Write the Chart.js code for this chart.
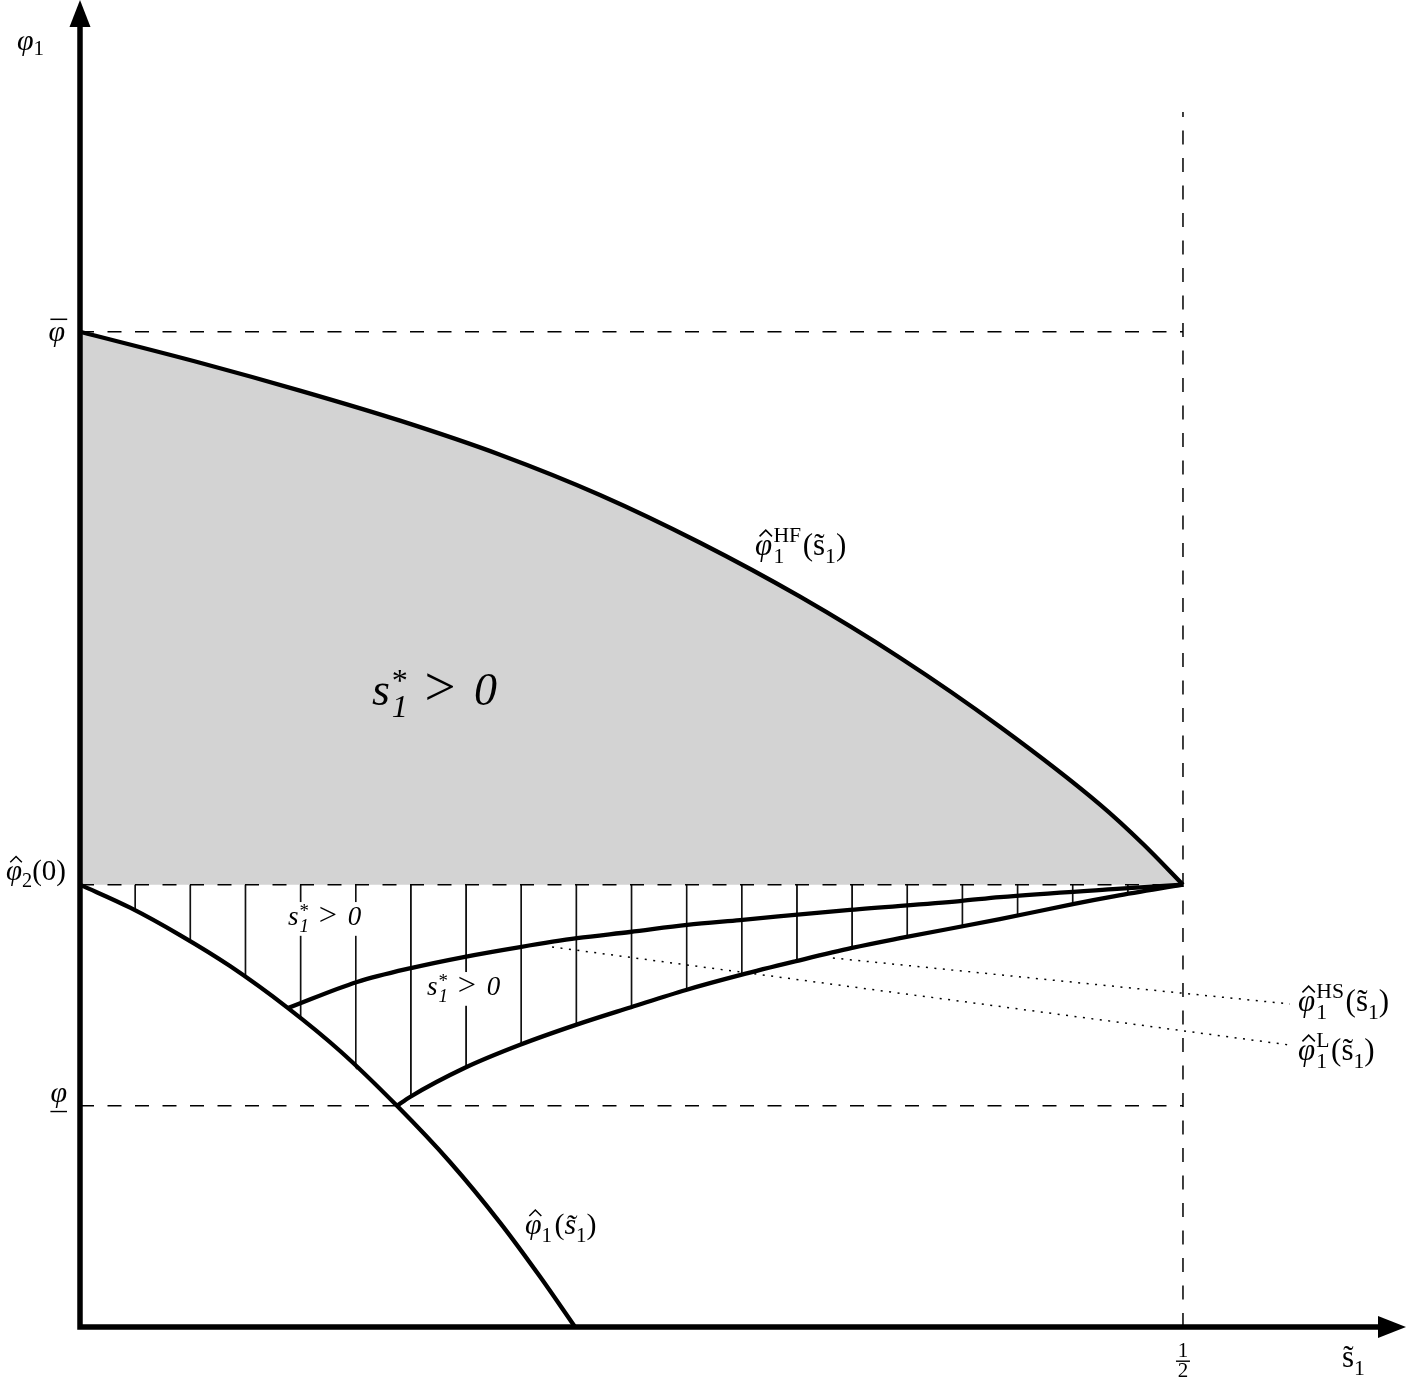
<!DOCTYPE html>
<html>
<head>
<meta charset="utf-8">
<title>s1* regions</title>
<script src="https://cdn.jsdelivr.net/npm/chart.js@4/dist/chart.umd.min.js"></script>
<style>
  html, body { margin: 0; padding: 0; background: #fff; }
  #wrap { position: relative; width: 1406px; height: 1378px; }
</style>
</head>
<body>
<div id="wrap"><canvas id="chart"></canvas></div>
<script>
// axis limits: s~1 on x, phi1 on y
const X_MAX = 0.6011;
const Y_MAX = 3.0;

// reference levels
const PHI_BAR = 2.25;    // phi bar
const PHI_HAT2 = 1.0;    // phi^_2(0)
const PHI_LOW = 0.5;     // underlined phi
const S_HALF = 0.5;
const S_DASH_TOP = 2.747;
const HATCH_STEP = 0.025;

// phi^HF_1(s~1) - top of the grey region
const hfX = [0, 0.0544, 0.0997, 0.1451, 0.1904, 0.2357, 0.2811, 0.3264, 0.3717, 0.4170, 0.4624, 0.4819, 0.5];
const hfY = [2.25, 2.180, 2.117, 2.049, 1.972, 1.881, 1.773, 1.651, 1.513, 1.357, 1.181, 1.092, 1.0];

// phi^_1(s~1)
const p1X = [0, 0.0227, 0.0453, 0.0680, 0.0943, 0.1179, 0.1437, 0.1677, 0.1904, 0.2085, 0.2244];
const p1Y = [1.0, 0.948, 0.886, 0.816, 0.721, 0.624, 0.5, 0.373, 0.236, 0.114, 0];

// phi^HS_1(s~1)
const hsX = [0.0943, 0.1256, 0.1505, 0.1745, 0.1995, 0.2253, 0.2493, 0.2752, 0.2992, 0.3491, 0.3989, 0.4170, 0.4683, 0.5];
const hsY = [0.721, 0.780, 0.812, 0.837, 0.859, 0.879, 0.893, 0.909, 0.920, 0.943, 0.963, 0.972, 0.990, 1.0];

// phi^L_1(s~1)
const lX = [0.1437, 0.1496, 0.1745, 0.1995, 0.2248, 0.2498, 0.2747, 0.2996, 0.3246, 0.3500, 0.3717, 0.4170, 0.4501, 0.4692, 0.5];
const lY = [0.5, 0.520, 0.586, 0.638, 0.683, 0.723, 0.762, 0.796, 0.827, 0.857, 0.879, 0.922, 0.956, 0.974, 1.0];

// dotted leaders to the right-hand labels
const hsLeadX = [0.3413, 0.5485];
const hsLeadY = [0.8342, 0.7302];
const lLeadX = [0.2140, 0.5485];
const lLeadY = [0.8591, 0.6375];

const toPts = (xs, ys) => xs.map((x, i) => ({x, y: ys[i]}));
const hatchPts = toPts(p1X, p1Y).filter(p => p.x < lX[0]).concat(toPts(lX, lY));

const SERIF = '"Liberation Serif", "DejaVu Serif", serif';
const I = (t, acc) => ({t, it: true, acc});
const R = t => ({t, it: false});
const sub = (t, it = false, dy = 0.27) => ({t, it, sc: 0.7, dy});
const sup = (t, it = false, dy = -0.42) => ({t, it, sc: 0.7, dy});
const gap = (em, tok) => Object.assign({pad: em}, tok);
const GT = {t: '>', it: false, sc: 1.2};
const starGt0 = [I('s'), [gap(0.04, sup('*', false, -0.3)), sub('1', true)], gap(0.36, GT), gap(0.4, I('0'))];

const labels = [
  {x: 0, y: Y_MAX, ox: -63, oy: 50, size: 30, align: 'left', toks: [I('φ'), sub('1', false, 0.18)]},
  {x: 0, y: PHI_BAR, ox: -15, oy: 9, size: 30, align: 'right', toks: [I('φ', 'bar')]},
  {x: 0, y: PHI_HAT2, ox: -14, oy: -5, size: 29, align: 'right', toks: [I('φ', 'hat'), sub('2'), R('(0)')]},
  {x: 0, y: PHI_LOW, ox: -13, oy: -4, size: 30, align: 'right', ul: true, toks: [I('φ')]},
  {x: X_MAX, y: 0, ox: -64, oy: 40, size: 31, align: 'left', toks: [R('s\u0303'), sub('1')]},
  {x: 0.306, y: 1.7453, size: 31, align: 'left',
    toks: [I('φ', 'hat'), [gap(0.04, sup('HF')), sub('1')], gap(0.05, R('(')), R('s\u0303'), sub('1'), R(')')]},
  {x: 0.1324, y: 1.406, size: 46, align: 'left', toks: starGt0},
  {x: 0.0943, y: 0.9088, size: 27, align: 'left', box: true, toks: starGt0},
  {x: 0.1573, y: 0.7506, size: 27, align: 'left', box: true, toks: starGt0},
  {x: 0.5521, y: 0.7144, size: 31, align: 'left',
    toks: [I('φ', 'hat'), [gap(0.04, sup('HS')), sub('1')], gap(0.05, R('(')), R('s\u0303'), sub('1'), R(')')]},
  {x: 0.5521, y: 0.6036, size: 31, align: 'left',
    toks: [I('φ', 'hat'), [gap(0.04, sup('L')), sub('1')], gap(0.05, R('(')), R('s\u0303'), sub('1'), R(')')]},
  {x: 0.2017, y: 0.2102, size: 30, align: 'left',
    toks: [I('φ', 'hat'), sub('1'), gap(0.08, R('(')), I('s\u0303'), sub('1'), R(')')]}
];

function layoutTokens(ctx, toks, size) {
  const items = [];
  let cx = 0;
  toks.forEach(tok => {
    const group = Array.isArray(tok) ? tok : [tok];
    const start = cx + (group[0].pad || 0) * size;
    let w = 0;
    group.forEach(g => {
      const fs = size * (g.sc || 1);
      const f = (g.it ? 'italic ' : '') + fs + 'px ' + SERIF;
      ctx.font = f;
      const tw = ctx.measureText(g.t).width;
      w = Math.max(w, tw);
      items.push({t: g.t, font: f, fs, it: g.it, acc: g.acc, w: tw, x: start, dy: (g.dy || 0) * size});
    });
    cx = start + w;
  });
  return {items, width: cx};
}

function labelPos(chart, lb) {
  const {x, y} = chart.scales;
  return [x.getPixelForValue(lb.x) + (lb.ox || 0), y.getPixelForValue(lb.y) + (lb.oy || 0)];
}

function drawAccent(ctx, it, gx, base) {
  const fs = it.fs;
  const cx = gx + it.w / 2 + (it.it ? 0.07 * fs : 0);
  if (it.acc === 'hat') {
    ctx.lineWidth = Math.max(1.2, fs * 0.05);
    ctx.lineJoin = 'miter';
    ctx.beginPath();
    ctx.moveTo(cx - 0.2 * fs, base - 0.6 * fs);
    ctx.lineTo(cx, base - 0.8 * fs);
    ctx.lineTo(cx + 0.2 * fs, base - 0.6 * fs);
    ctx.stroke();
  } else if (it.acc === 'bar') {
    ctx.fillRect(cx - 0.28 * fs, base - 0.74 * fs, 0.56 * fs, Math.max(1.3, 0.05 * fs));
  }
}

function drawLabel(ctx, lb, px, py) {
  const lay = layoutTokens(ctx, lb.toks, lb.size);
  const left = lb.align === 'right' ? px - lay.width : px;
  ctx.fillStyle = '#000';
  ctx.strokeStyle = '#000';
  ctx.textAlign = 'left';
  ctx.textBaseline = 'alphabetic';
  lay.items.forEach(it => {
    ctx.font = it.font;
    ctx.fillText(it.t, left + it.x, py + it.dy);
    if (it.acc) drawAccent(ctx, it, left + it.x, py + it.dy);
  });
  if (lb.ul) {
    ctx.fillRect(left, py + 9, lay.width, 1.4);
  }
}

function hatchFill(context) {
  const chart = context.chart;
  const xs = chart.scales.x;
  if (!xs || !chart.chartArea) return 'rgba(0,0,0,0)';
  const x0 = xs.getPixelForValue(0);
  const step = xs.getPixelForValue(HATCH_STEP) - x0;
  const W = 64;
  const k = W / step;
  const tile = document.createElement('canvas');
  tile.width = W;
  tile.height = 4;
  const t = tile.getContext('2d');
  t.fillStyle = '#000';
  t.fillRect(W / 2 - 0.8 * k, 0, 1.6 * k, 4);
  const pat = chart.ctx.createPattern(tile, 'repeat');
  pat.setTransform(new DOMMatrix([1 / k, 0, 0, 1, x0 - (W / 2) / k, 0]));
  return pat;
}

// white boxes behind the small labels, cut into the hatching only
const labelBoxes = {
  id: 'labelBoxes',
  afterDatasetDraw(chart, args) {
    if (chart.data.datasets[args.index].id !== 'hatch') return;
    const ctx = chart.ctx;
    ctx.save();
    ctx.fillStyle = '#fff';
    labels.filter(lb => lb.box).forEach(lb => {
      const [px, py] = labelPos(chart, lb);
      const lay = layoutTokens(ctx, lb.toks, lb.size);
      ctx.fillRect(px - 3, py - 0.85 * lb.size, lay.width + 6, 1.25 * lb.size);
    });
    ctx.restore();
  }
};

const diagramText = {
  id: 'diagramText',
  afterDatasetsDraw(chart) {
    const ctx = chart.ctx;
    const {x, y} = chart.scales;
    const ax0 = x.getPixelForValue(0);
    const ay0 = y.getPixelForValue(0);
    const tipY = y.getPixelForValue(Y_MAX);
    const tipX = x.getPixelForValue(X_MAX);
    ctx.save();
    // axes with arrowheads
    ctx.strokeStyle = '#000';
    ctx.fillStyle = '#000';
    ctx.lineWidth = 5.5;
    ctx.lineCap = 'butt';
    ctx.beginPath();
    ctx.moveTo(ax0, ay0 + 2.75);
    ctx.lineTo(ax0, tipY + 22);
    ctx.moveTo(ax0 - 2.75, ay0);
    ctx.lineTo(tipX - 22, ay0);
    ctx.stroke();
    ctx.beginPath();
    ctx.moveTo(ax0, tipY);
    ctx.lineTo(ax0 + 10.5, tipY + 27);
    ctx.lineTo(ax0 - 10.5, tipY + 27);
    ctx.closePath();
    ctx.fill();
    ctx.beginPath();
    ctx.moveTo(tipX, ay0);
    ctx.lineTo(tipX - 28, ay0 - 11);
    ctx.lineTo(tipX - 28, ay0 + 11);
    ctx.closePath();
    ctx.fill();

    labels.forEach(lb => {
      const [px, py] = labelPos(chart, lb);
      drawLabel(ctx, lb, px, py);
    });

    // 1/2 tick label as a fraction
    const fx = x.getPixelForValue(S_HALF);
    ctx.font = '21px ' + SERIF;
    ctx.textAlign = 'center';
    ctx.fillText('1', fx, ay0 + 30);
    ctx.fillRect(fx - 7, ay0 + 33.5, 14, 1.4);
    ctx.fillText('2', fx, ay0 + 50);
    ctx.restore();
  }
};

const base = {showLine: true, pointRadius: 0, clip: false, borderColor: '#000', fill: false, tension: 0};
const curve = (id, pts, order) => Object.assign({}, base, {
  id, data: pts, borderWidth: 4.3, cubicInterpolationMode: 'monotone', order
});
const dashed = (id, pts) => Object.assign({}, base, {
  id, data: pts, borderWidth: 1.5, borderDash: [14, 13.5], order: 5
});
const dotted = (id, pts) => Object.assign({}, base, {
  id, data: pts, borderWidth: 1.5, borderDash: [2, 6.5], order: 4
});

new Chart(document.getElementById('chart'), {
  type: 'scatter',
  data: {
    datasets: [
      Object.assign(curve('hf', toPts(hfX, hfY), 10), {
        fill: {value: PHI_HAT2}, backgroundColor: 'rgb(211,211,211)'
      }),
      Object.assign({}, base, {
        id: 'hatch', data: hatchPts, borderWidth: 0, cubicInterpolationMode: 'monotone',
        fill: {value: PHI_HAT2}, backgroundColor: hatchFill, order: 9
      }),
      dashed('barLine', [{x: 0, y: PHI_BAR}, {x: S_HALF, y: PHI_BAR}]),
      dashed('hat2Line', [{x: 0, y: PHI_HAT2}, {x: S_HALF, y: PHI_HAT2}]),
      dashed('lowLine', [{x: 0, y: PHI_LOW}, {x: S_HALF, y: PHI_LOW}]),
      dashed('halfLine', [{x: S_HALF, y: 0}, {x: S_HALF, y: S_DASH_TOP}]),
      dotted('hsLead', toPts(hsLeadX, hsLeadY)),
      dotted('lLead', toPts(lLeadX, lLeadY)),
      curve('phi1', toPts(p1X, p1Y), 3),
      curve('hs', toPts(hsX, hsY), 3),
      curve('l', toPts(lX, lY), 3)
    ]
  },
  options: {
    responsive: true,
    maintainAspectRatio: false,
    animation: false,
    layout: {padding: {left: 80, right: 0, top: 0, bottom: 51}},
    plugins: {legend: {display: false}, tooltip: {enabled: false}},
    scales: {
      x: {type: 'linear', min: 0, max: X_MAX, display: false},
      y: {type: 'linear', min: 0, max: Y_MAX, display: false}
    }
  },
  plugins: [labelBoxes, diagramText]
});
</script>
</body>
</html>
